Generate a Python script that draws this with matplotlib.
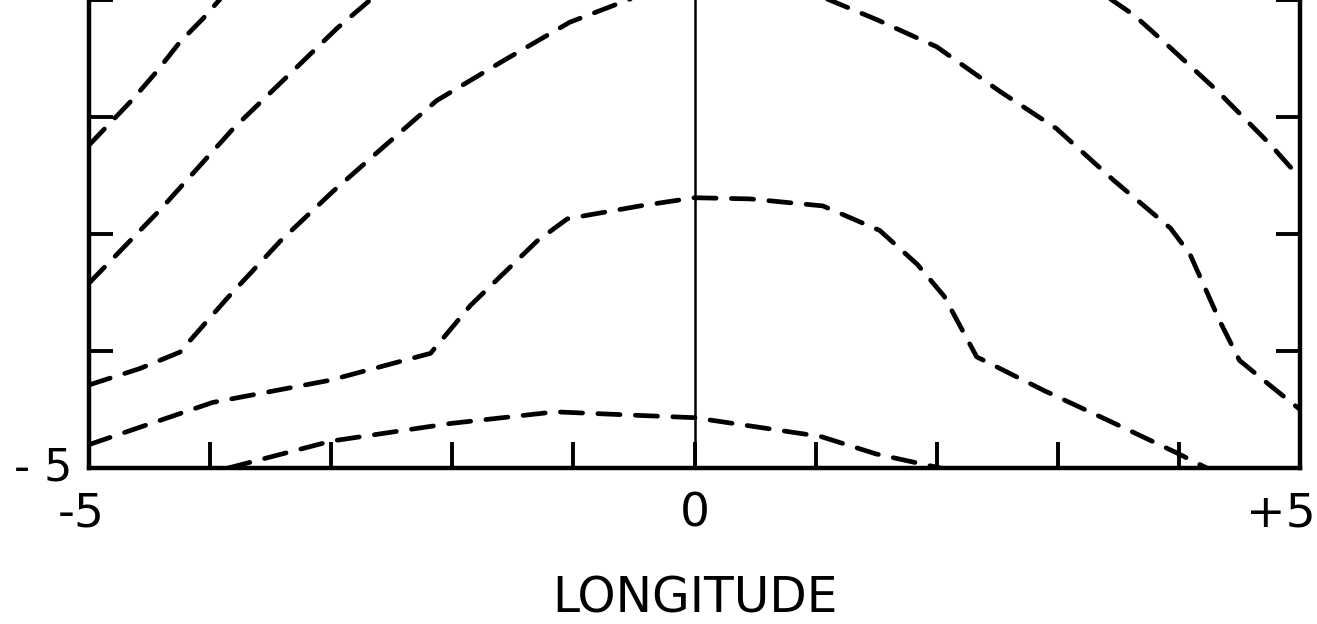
import matplotlib
matplotlib.use("Agg")
import matplotlib.pyplot as plt

# ---------------------------------------------------------------
# Contour lines (dashed), lowest first
# ---------------------------------------------------------------
c1_x = [-3.85, -3.0, -2.02, -1.15, -0.47, 0.0, 0.65, 1.04, 1.5, 2.03]
c1_y = [-5.0, -4.77, -4.62, -4.52, -4.55, -4.57, -4.67, -4.73, -4.88, -5.0]

c2_x = [-5.0, -3.98, -3.01, -2.18, -1.85, -1.30, -1.05, -0.45, 0.0, 0.46,
        1.06, 1.53, 1.84, 2.06, 2.33, 2.89, 3.43, 3.98, 4.23]
c2_y = [-4.80, -4.44, -4.25, -4.02, -3.61, -3.06, -2.87, -2.76, -2.69, -2.70,
        -2.76, -2.97, -3.26, -3.53, -4.05, -4.34, -4.60, -4.87, -5.0]

c3_x = [-5.0, -4.58, -4.25, -4.03, -3.86, -3.42, -2.99, -2.54, -2.13, -1.58,
        -1.03, -0.3, 0.4, 1.0, 1.51, 2.0, 2.52, 2.99, 3.46, 3.93, 4.09,
        4.34, 4.50, 4.70, 5.0]
c3_y = [-4.29, -4.15, -4.01, -3.75, -3.55, -3.06, -2.64, -2.23, -1.86, -1.52,
        -1.19, -0.90, -0.80, -0.95, -1.17, -1.40, -1.78, -2.10, -2.54, -2.95,
        -3.17, -3.75, -4.08, -4.25, -4.50]

c4_x = [-5.0, -4.41, -3.81, -3.36, -2.95, -2.0, 0.3, 2.6, 3.63, 3.90, 4.31,
        4.75, 5.0]
c4_y = [-3.42, -2.79, -2.10, -1.65, -1.24, -0.40, 0.40, -0.40, -1.13, -1.38,
        -1.77, -2.23, -2.52]

c5_x = [-5.0, -4.64, -4.44, -4.25, -4.06, -3.5]
c5_y = [-2.24, -1.85, -1.61, -1.36, -1.16, -0.50]

curves = [(c1_x, c1_y), (c2_x, c2_y), (c3_x, c3_y), (c4_x, c4_y), (c5_x, c5_y)]

x_ticks = [-5, -4, -3, -2, -1, 0, 1, 2, 3, 4, 5]
y_ticks = [-5, -4, -3, -2, -1]
x_labels = {-5: "-5", 0: "0", 5: "+5"}
y_corner_label = "- 5"

# ---------------------------------------------------------------
# Plot
# ---------------------------------------------------------------
plt.rcParams["font.family"] = ["DejaVu Sans"]
plt.rcParams["lines.scale_dashes"] = False

fig = plt.figure(figsize=(13.17, 6.24), dpi=100)
ax = fig.add_axes([0.0676, 0.25, 0.9195, 0.75])

for cx, cy in curves:
    ax.plot(cx, cy, color="black", linewidth=3.4, linestyle=(0, (16, 11)),
            dash_capstyle="round", solid_joinstyle="round")

ax.axvline(0, color="black", linewidth=1.8)

ax.set_xlim(-5, 5)
ax.set_ylim(-5, -1.132)

for side in ["left", "right", "bottom"]:
    ax.spines[side].set_linewidth(3.2)
ax.spines["top"].set_visible(False)

ax.set_xticks(x_ticks)
ax.set_xticklabels([])
ax.set_yticks(y_ticks)
ax.set_yticklabels([])
ax.tick_params(axis="x", direction="in", length=19, width=2.8, top=False)
ax.tick_params(axis="y", direction="in", length=17, width=2.8,
               left=True, right=True)

# tick labels: the digit sits under the tick, the sign hangs outside
for xv, txt in x_labels.items():
    ax.annotate(txt, xy=(xv, 0), xycoords=("data", "axes fraction"),
                xytext=(11, -17), textcoords="offset points",
                ha="right", va="top", fontsize=34)

ax.annotate(y_corner_label, xy=(0, -5), xycoords=("axes fraction", "data"),
            xytext=(-12, 0), textcoords="offset points",
            ha="right", va="center", fontsize=32)

ax.set_xlabel("LONGITUDE", fontsize=35, labelpad=73)

plt.savefig("out.png", dpi=100)
